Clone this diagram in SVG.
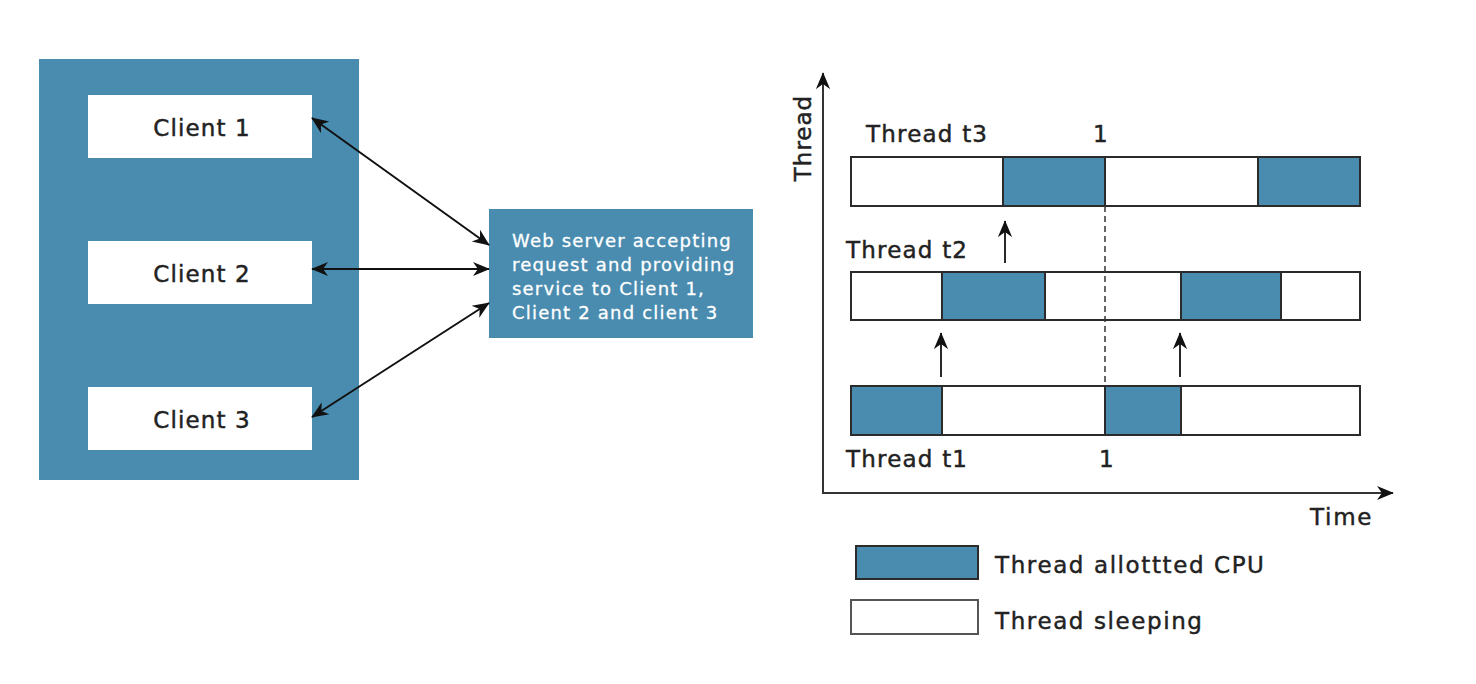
<svg xmlns="http://www.w3.org/2000/svg" width="1476" height="684" viewBox="0 0 1476 684">
<defs>
<marker id="ah2" viewBox="0 0 10 10" refX="9.5" refY="5" markerWidth="17" markerHeight="17" markerUnits="userSpaceOnUse" orient="auto-start-reverse">
<path d="M0,0.8 L10,5 L0,9.2 L3,5 Z" fill="#111"/>
</marker>
<style>
.t{font-family:"DejaVu Sans","Open Sans",sans-serif;fill:#222;stroke:#222;stroke-width:0.45px}
.lbl{font-size:23px;letter-spacing:1.2px}
.wt{fill:#fff;stroke:#fff;stroke-width:0.3px}
.blue{fill:#4a8caf}
.seg{stroke:#2b2b2b;stroke-width:2}
.ln{stroke:#111;stroke-width:2;fill:none}
</style>
</defs>
<rect width="1476" height="684" fill="#fff"/>
<g id="clients-panel">
<rect x="39" y="59" width="320" height="421" class="blue"/>
</g>
<g id="client1"><rect x="88" y="95" width="224" height="63" fill="#fff"/><text class="t lbl" x="202" y="136" text-anchor="middle" style="letter-spacing:1.1px">Client 1</text></g>
<g id="client2"><rect x="88" y="241" width="224" height="63" fill="#fff"/><text class="t lbl" x="202" y="282" text-anchor="middle" style="letter-spacing:1.1px">Client 2</text></g>
<g id="client3"><rect x="88" y="387" width="224" height="63" fill="#fff"/><text class="t lbl" x="202" y="428" text-anchor="middle" style="letter-spacing:1.1px">Client 3</text></g>
<g id="webserver">
<rect x="489" y="209" width="264" height="129" class="blue"/>
<text class="t wt" font-size="18" style="letter-spacing:1.2px">
<tspan x="512" y="247">Web server accepting</tspan>
<tspan x="512" y="271">request and providing</tspan>
<tspan x="512" y="295">service to Client 1,</tspan>
<tspan x="512" y="319">Client 2 and client 3</tspan>
</text>
</g>
<g id="connectors">
<line class="ln" x1="312" y1="118" x2="489" y2="245" marker-start="url(#ah2)" marker-end="url(#ah2)"/>
<line class="ln" x1="312" y1="269" x2="489" y2="269" marker-start="url(#ah2)" marker-end="url(#ah2)"/>
<line class="ln" x1="312" y1="417" x2="489" y2="303" marker-start="url(#ah2)" marker-end="url(#ah2)"/>
</g>
<g id="axes">
<line class="ln" x1="823" y1="493" x2="823" y2="73" style="stroke:#333" marker-end="url(#ah2)"/>
<line class="ln" x1="822" y1="493" x2="1393" y2="493" style="stroke:#333" marker-end="url(#ah2)"/>
<text class="t lbl" transform="translate(811,138) rotate(-90)" text-anchor="middle" style="letter-spacing:1px">Thread</text>
<text class="t lbl" x="1310" y="525" style="letter-spacing:1.7px">Time</text>
</g>
<g id="thread-t3">
<text class="t lbl" x="866" y="142">Thread t3</text>
<text class="t lbl" x="1101" y="142" text-anchor="middle">1</text>
<rect x="851" y="157" width="509" height="49" fill="#fff" class="seg"/>
<rect x="1003" y="157" width="102" height="49" class="blue seg"/>
<rect x="1258" y="157" width="102" height="49" class="blue seg"/>
</g>
<g id="thread-t2">
<text class="t lbl" x="846" y="258">Thread t2</text>
<rect x="851" y="272" width="509" height="48" fill="#fff" class="seg"/>
<rect x="942" y="272" width="103" height="48" class="blue seg"/>
<rect x="1181" y="272" width="100" height="48" class="blue seg"/>
</g>
<g id="thread-t1">
<rect x="851" y="386" width="509" height="49" fill="#fff" class="seg"/>
<rect x="851" y="386" width="91" height="49" class="blue seg"/>
<rect x="1105" y="386" width="76" height="49" class="blue seg"/>
<text class="t lbl" x="846" y="467">Thread t1</text>
<text class="t lbl" x="1107" y="467" text-anchor="middle">1</text>
</g>
<g id="switch-arrows">
<line x1="1105" y1="206" x2="1105" y2="386" stroke="#333" stroke-width="1.5" stroke-dasharray="6,4"/>
<line class="ln" x1="1005" y1="263" x2="1005" y2="221" style="stroke-width:1.8" marker-end="url(#ah2)"/>
<line class="ln" x1="941" y1="377" x2="941" y2="333" style="stroke-width:1.8" marker-end="url(#ah2)"/>
<line class="ln" x1="1180" y1="377" x2="1180" y2="333" style="stroke-width:1.8" marker-end="url(#ah2)"/>
</g>
<g id="legend">
<rect x="856" y="546" width="122" height="33" class="blue seg"/>
<text class="t lbl" x="995" y="573" style="letter-spacing:1.6px">Thread allottted CPU</text>
<rect x="851" y="600" width="127" height="34" fill="#fff" class="seg" style="stroke:#555"/>
<text class="t lbl" x="995" y="629" style="letter-spacing:1.6px">Thread sleeping</text>
</g>
</svg>
